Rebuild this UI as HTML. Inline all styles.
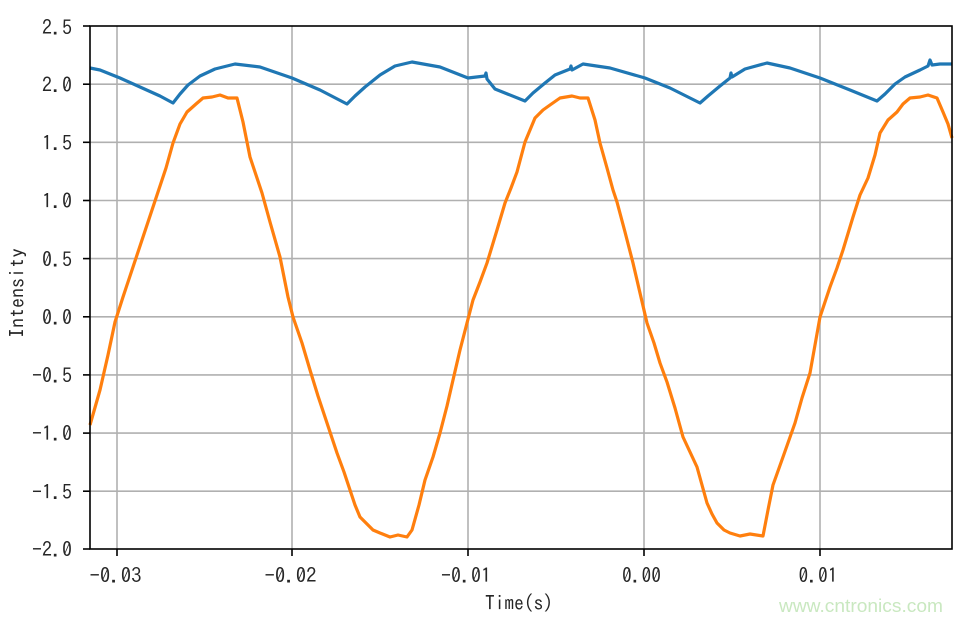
<!DOCTYPE html>
<html><head><meta charset="utf-8"><style>
html,body{margin:0;padding:0;background:#fff;}
svg{display:block;}
text{font-family:"IPAGothic","Liberation Mono",monospace;fill:#262626;}
</style></head><body>
<svg width="963" height="622" viewBox="0 0 963 622" xmlns="http://www.w3.org/2000/svg">
<rect width="963" height="622" fill="#fff"/>
<!-- grid -->
<g stroke="#b0b0b0" stroke-width="1.6">
<line x1="117" y1="26" x2="117" y2="549"/>
<line x1="292" y1="26" x2="292" y2="549"/>
<line x1="468" y1="26" x2="468" y2="549"/>
<line x1="644" y1="26" x2="644" y2="549"/>
<line x1="820" y1="26" x2="820" y2="549"/>
<line x1="90" y1="84.2" x2="952" y2="84.2"/>
<line x1="90" y1="142.3" x2="952" y2="142.3"/>
<line x1="90" y1="200.5" x2="952" y2="200.5"/>
<line x1="90" y1="258.6" x2="952" y2="258.6"/>
<line x1="90" y1="316.8" x2="952" y2="316.8"/>
<line x1="90" y1="374.9" x2="952" y2="374.9"/>
<line x1="90" y1="433.1" x2="952" y2="433.1"/>
<line x1="90" y1="491.2" x2="952" y2="491.2"/>
</g>
<!-- blue series -->
<polyline fill="none" stroke="#1f77b4" stroke-width="3.2" stroke-linejoin="round" points="90,68 100,70 120,78 140,87 160,96 173,103 180,94 188,85 200,76 215,69 235,64 260,67 292,78 320,90 347,104 355,96 365,87 380,75 395,66 412,62 440,67 468,78 485,76 486,73 487,79 495,89 525,101 533,93 545,83 555,75 570,69 571,66 572,70 583,64 610,68 645,78 670,88 700,103 708,96 720,86 730,78 731,73 732,77 745,69 767,63 790,68 820,78 850,90 877,101 885,94 895,84 905,77 920,70 928,66 930,60 932,65 940,64 952,64"/>
<!-- orange series -->
<polyline fill="none" stroke="#ff7f0e" stroke-width="3.2" stroke-linejoin="round" points="90,425 100,390 108,355 115,322 123,297 133,267 147,225 158,192 166,168 173,143 180,124 187,112 196,104 203,98 212,97 220,95 228,98 237,98 243,122 250,157 256,175 262,193 270,222 280,257 288,297 293,317 302,343 310,370 318,396 327,423 337,453 344,472 350,490 355,505 360,517 367,524 373,530 380,533 390,537 398,535 407,537 412,530 419,505 425,480 433,457 440,433 447,406 453,380 460,350 467,323 473,300 480,282 487,263 497,230 505,203 511,188 517,172 525,142 535,118 543,110 550,105 560,98 572,96 580,98 588,98 595,120 600,143 607,168 613,190 617,202 625,232 633,263 640,293 647,323 654,343 660,363 667,382 675,408 683,437 690,452 697,467 702,485 707,503 712,514 717,523 724,530 730,533 740,536 750,534 763,536 768,510 773,485 783,457 795,423 802,398 810,373 815,345 820,317 830,287 837,268 843,250 853,217 860,195 868,178 875,155 880,133 888,120 897,112 903,104 910,98 920,97 928,95 937,98 943,112 948,124 952,138"/>
<!-- spines -->
<rect x="90" y="26" width="862" height="523" fill="none" stroke="#000" stroke-width="1.6"/>
<!-- ticks -->
<g stroke="#000" stroke-width="1.6">
<line x1="83" y1="26" x2="90" y2="26"/>
<line x1="83" y1="84.2" x2="90" y2="84.2"/>
<line x1="83" y1="142.3" x2="90" y2="142.3"/>
<line x1="83" y1="200.5" x2="90" y2="200.5"/>
<line x1="83" y1="258.6" x2="90" y2="258.6"/>
<line x1="83" y1="316.8" x2="90" y2="316.8"/>
<line x1="83" y1="374.9" x2="90" y2="374.9"/>
<line x1="83" y1="433.1" x2="90" y2="433.1"/>
<line x1="83" y1="491.2" x2="90" y2="491.2"/>
<line x1="83" y1="549" x2="90" y2="549"/>
<line x1="117" y1="549" x2="117" y2="556"/>
<line x1="292" y1="549" x2="292" y2="556"/>
<line x1="468" y1="549" x2="468" y2="556"/>
<line x1="644" y1="549" x2="644" y2="556"/>
<line x1="820" y1="549" x2="820" y2="556"/>
</g>
<!-- y tick labels -->
<g font-size="20" text-anchor="end">
<text x="72" y="34.5" textLength="30" lengthAdjust="spacingAndGlyphs">2.5</text>
<text x="72" y="92" textLength="30" lengthAdjust="spacingAndGlyphs">2.0</text>
<text x="72" y="150" textLength="30" lengthAdjust="spacingAndGlyphs">1.5</text>
<text x="72" y="208" textLength="30" lengthAdjust="spacingAndGlyphs">1.0</text>
<text x="72" y="266.5" textLength="30" lengthAdjust="spacingAndGlyphs">0.5</text>
<text x="72" y="324.5" textLength="30" lengthAdjust="spacingAndGlyphs">0.0</text>
<text x="72" y="382.5" textLength="40" lengthAdjust="spacingAndGlyphs">−0.5</text>
<text x="72" y="440.5" textLength="40" lengthAdjust="spacingAndGlyphs">−1.0</text>
<text x="72" y="499" textLength="40" lengthAdjust="spacingAndGlyphs">−1.5</text>
<text x="72" y="556.5" textLength="40" lengthAdjust="spacingAndGlyphs">−2.0</text>
</g>
<!-- x tick labels -->
<g font-size="20">
<text x="89.5" y="582.5" textLength="52" lengthAdjust="spacingAndGlyphs">−0.03</text>
<text x="264.5" y="582.5" textLength="52" lengthAdjust="spacingAndGlyphs">−0.02</text>
<text x="441" y="582.5" textLength="50" lengthAdjust="spacingAndGlyphs">−0.01</text>
<text x="622" y="582.5" textLength="39" lengthAdjust="spacingAndGlyphs">0.00</text>
<text x="798.5" y="582.5" textLength="39" lengthAdjust="spacingAndGlyphs">0.01</text>
</g>
<text x="485" y="610" font-size="20" textLength="68" lengthAdjust="spacingAndGlyphs">Time(s)</text>
<text transform="translate(24,338) rotate(-90)" font-size="20" textLength="90" lengthAdjust="spacingAndGlyphs">Intensity</text>
<!-- watermark -->
<text x="779" y="612" font-size="18" style="fill:#c9e8c0;font-family:'Liberation Sans',sans-serif" textLength="164" lengthAdjust="spacingAndGlyphs">www.cntronics.com</text>
</svg>
</body></html>
